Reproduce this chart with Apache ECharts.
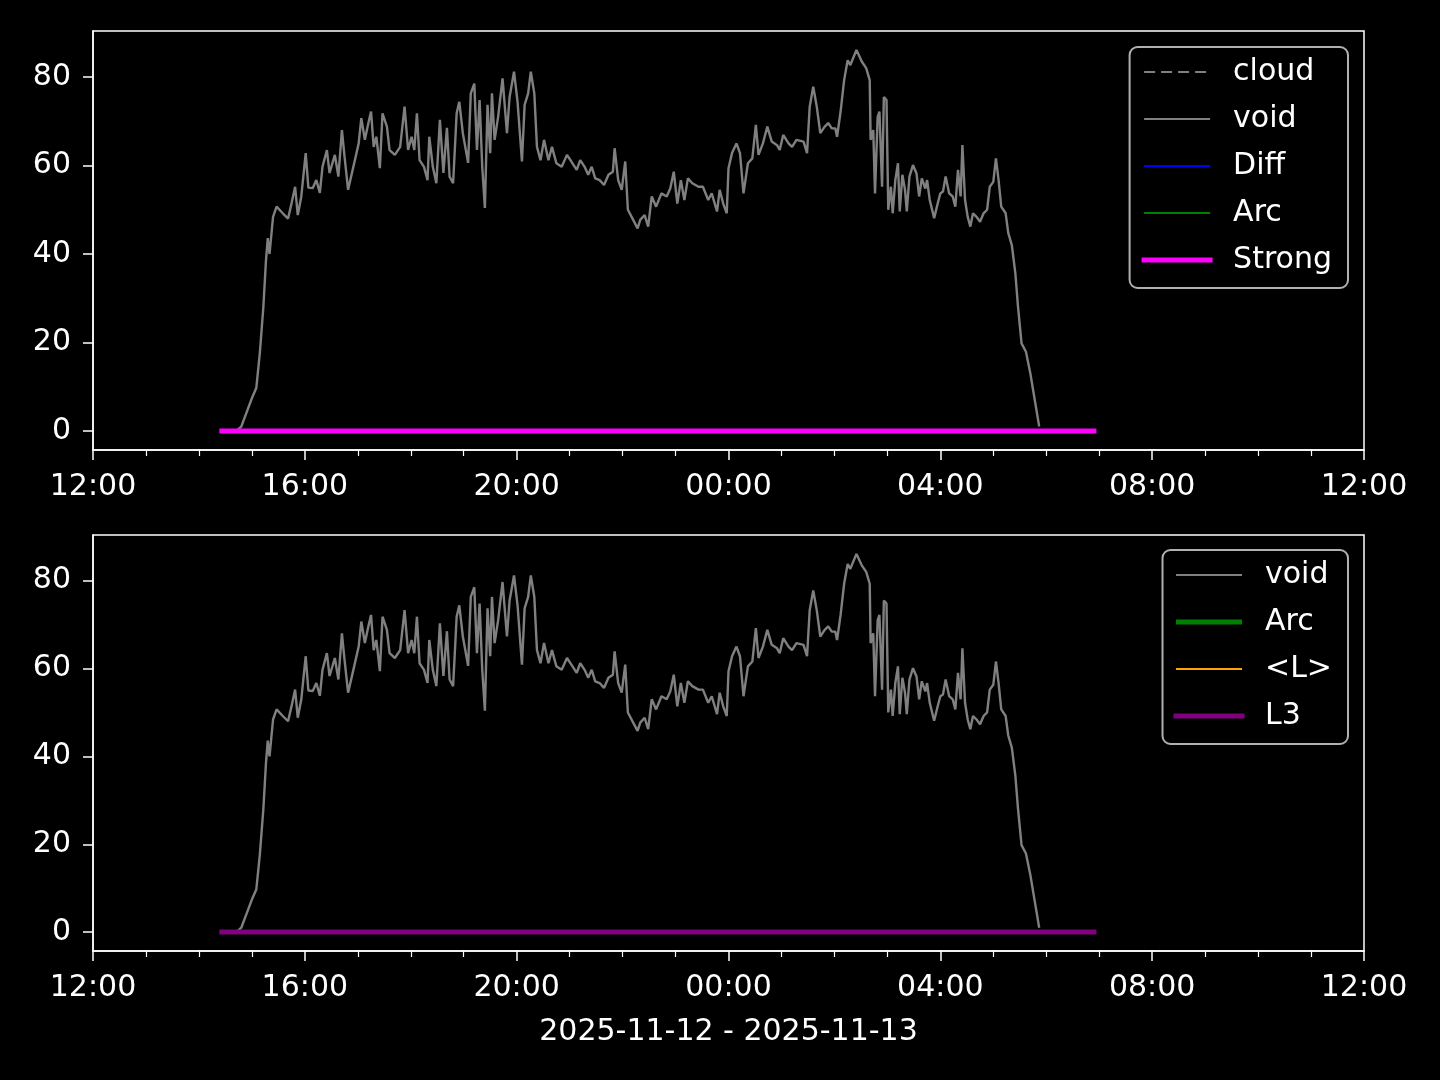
<!DOCTYPE html>
<html>
<head>
<meta charset="utf-8">
<script src="https://cdn.jsdelivr.net/npm/echarts@6/dist/echarts.min.js"></script>
<style>
html,body{margin:0;padding:0;background:#000;}
#chart{width:1440px;height:1080px;}
</style>
</head>
<body>
<div id="chart"></div>
<script>
// ---- data ----
const xTickLabels = ["12:00","16:00","20:00","00:00","04:00","08:00","12:00"];
const yTickValues = [0, 20, 40, 60, 80];
const dateLabel = "2025-11-12 - 2025-11-13";

const voidTimes = ["14:44","14:48","15:00","15:05","15:09","15:13","15:16","15:18","15:20","15:24","15:28","15:35","15:41","15:45","15:49","15:52","15:56","16:01","16:04","16:09","16:13","16:17","16:20","16:25","16:28","16:34","16:38","16:42","16:45","16:49","16:55","17:01","17:04","17:08","17:12","17:15","17:18","17:21","17:25","17:28","17:33","17:36","17:42","17:48","17:53","17:57","18:01","18:04","18:07","18:10","18:15","18:19","18:21","18:25","18:29","18:33","18:37","18:41","18:44","18:48","18:52","18:55","18:59","19:05","19:08","19:12","19:15","19:18","19:21","19:24","19:27","19:30","19:32","19:35","19:39","19:44","19:49","19:52","19:57","20:01","20:06","20:09","20:13","20:16","20:20","20:23","20:27","20:31","20:36","20:40","20:45","20:51","20:57","21:02","21:08","21:12","21:17","21:21","21:25","21:29","21:34","21:39","21:44","21:49","21:51","21:55","21:59","22:03","22:06","22:12","22:17","22:20","22:25","22:29","22:33","22:38","22:44","22:50","22:54","22:58","23:02","23:06","23:10","23:14","23:19","23:26","23:31","23:37","23:41","23:47","23:50","23:54","23:58","00:00","00:04","00:09","00:13","00:17","00:22","00:27","00:31","00:34","00:39","00:44","00:49","00:55","00:58","01:02","01:08","01:12","01:17","01:25","01:29","01:32","01:36","01:40","01:44","01:49","01:53","01:57","02:01","02:03","02:07","02:11","02:15","02:18","02:25","02:31","02:36","02:40","02:41","02:44","02:46","02:49","02:51","02:54","02:56","02:59","03:01","03:04","03:06","03:09","03:12","03:14","03:17","03:20","03:22","03:25","03:29","03:33","03:36","03:39","03:43","03:45","03:48","03:53","03:57","04:00","04:03","04:06","04:10","04:14","04:17","04:20","04:23","04:25","04:28","04:31","04:34","04:37","04:41","04:45","04:49","04:53","04:56","05:00","05:03","05:06","05:09","05:14","05:17","05:21","05:25","05:28","05:32","05:37","05:42","05:47","05:52"];
const voidValues = [0.3,1.0,7.4,9.7,17.6,28,38.6,43.6,40,48.4,50.7,49.2,48,51.5,55.2,48.8,53,62.8,55,54.9,56.7,53.8,59.7,63.5,58.3,62.4,57.5,68,62,54.5,59.7,65,70.7,65.8,69.6,72.2,64.2,66.5,59.4,71.8,68.8,63.5,62.4,64.2,73.3,63.5,66.5,63.5,71.8,61.2,59.7,56.7,66.5,59.7,56,70.3,58.3,68.5,57.5,56,71.8,74.4,67.3,60.6,76.3,78.5,63.5,74.8,59.7,50.4,73.7,62.8,76.3,65.8,71,79.7,67.3,75.5,81.2,74.4,60.9,73.7,76.3,81.2,76.3,64.2,61.2,65.8,61.2,64.2,60.5,59.7,62.4,60.9,59,61.2,59.7,57.9,59.7,57.1,56.7,55.6,57.9,58.6,63.9,56.7,54.5,60.9,50,47.7,45.8,47.7,48.8,46.2,53,50.7,53.7,53,54.8,58.6,51.4,56.7,52.2,57.1,56,55.2,55.2,52.2,53.7,49.6,54.5,51.4,49.2,59.4,62.8,65,62.8,53.7,60.5,61.6,69.2,62.4,65,68.8,65.4,64.6,63.5,66.9,65,64.2,65.8,65.4,62.8,73.3,77.8,73.3,67.3,68.8,69.6,68.4,68.4,66.5,72.2,79.3,83.8,82.7,86.1,83.5,82,79.3,65.8,68,53.7,71,72.2,55.2,75.5,74.8,50,55.2,49.2,56.7,60.5,49.6,57.9,54.5,49.6,57.5,60.1,58.2,53,57.1,54.8,56.7,52.2,48.1,51.4,53.7,54.1,57.5,53.7,53,50.7,59,53,64.6,52.2,48.4,46.2,49.2,48.4,47.3,49.2,50,55.2,56.3,61.6,56.7,50.7,49.2,44.7,42,35.6,28.1,19.8,17.9,13,7,1.0];

const strongTimes = ["14:26","06:54"];
const strongValues = [0, 0];
const l3Times = ["14:26","06:54"];
const l3Values = [0, 0];

// ---- helpers ----
function toHours(t){
  const [h,m] = t.split(":").map(Number);
  let mins = h*60 + m;
  if (h < 12) mins += 24*60;
  return (mins - 12*60)/60;
}
function pairs(times, vals){ return times.map((t,i)=>[toHours(t), vals[i]]); }

const FONT = "DejaVu Sans";
const WHITE = "#ffffff";

function xAxisCfg(idx){
  return {
    type:'value', gridIndex:idx, min:0, max:24, interval:4,
    axisLine:{show:true, onZero:false, lineStyle:{color:WHITE, width:1.5}},
    axisTick:{show:true, length:10, lineStyle:{color:WHITE, width:1.5}},
    minorTick:{show:true, splitNumber:4, length:6, lineStyle:{color:WHITE, width:1.2}},
    splitLine:{show:false}, minorSplitLine:{show:false},
    axisLabel:{color:WHITE, fontSize:30, fontFamily:FONT, margin:22,
      formatter:(v)=> xTickLabels[Math.round(v/4)]}
  };
}
function yAxisCfg(idx){
  return {
    type:'value', gridIndex:idx, min:-4.3, max:90.4,
    axisLine:{show:true, onZero:false, lineStyle:{color:WHITE, width:1.5}},
    axisTick:{show:true, length:10, customValues:yTickValues, lineStyle:{color:WHITE, width:1.5}},
    splitLine:{show:false},
    axisLabel:{color:WHITE, fontSize:30, fontFamily:FONT, margin:22, customValues:yTickValues}
  };
}

function legendItem(name, width, dash){
  return {name:name, lineStyle:{width:width, type: dash || 'solid'}, itemStyle:{opacity:0, borderWidth:0}};
}

const legendBase = {
  orient:'vertical', itemWidth:66, itemHeight:16, itemGap:11,
  borderColor:'#b0b0b0', borderWidth:2, borderRadius:8, backgroundColor:'#000',
  textStyle:{color:WHITE, fontSize:30, fontFamily:FONT, lineHeight:36, padding:[0,0,0,18]},
  itemStyle:{opacity:0, borderWidth:0},
  formatter:(n)=>n.trim(),
  selectedMode:false
};

const option = {
  backgroundColor:'#000',
  animation:false,
  grid:[
    {left:93, top:31, width:1271, height:419, show:true, borderColor:WHITE, borderWidth:1.5, backgroundColor:'#000'},
    {left:93, top:535, width:1271, height:416, show:true, borderColor:WHITE, borderWidth:1.5, backgroundColor:'#000'}
  ],
  xAxis:[xAxisCfg(0), xAxisCfg(1)],
  yAxis:[yAxisCfg(0), yAxisCfg(1)],
  legend:[
    Object.assign({}, legendBase, {right:92, top:47, padding:[7,16,10,12],
      data:[legendItem('cloud',2,[11,6]), legendItem('void',2.2), legendItem('Diff',2), legendItem('Arc',2), legendItem('Strong',5)]}),
    Object.assign({}, legendBase, {right:92, top:550, padding:[7,16,10,11],
      data:[legendItem('void ',2.2), legendItem('Arc ',5), legendItem('<L>',2), legendItem('L3',5)]})
  ],
  series:[
    {name:'cloud', type:'line', xAxisIndex:0, yAxisIndex:0, data:[], symbol:'none',
      lineStyle:{color:'#808080', width:2, type:[11,6]}, itemStyle:{color:'#808080'}},
    {name:'void', type:'line', xAxisIndex:0, yAxisIndex:0, data:pairs(voidTimes, voidValues), symbol:'none',
      lineStyle:{color:'#808080', width:2.4}, itemStyle:{color:'#808080'}},
    {name:'Diff', type:'line', xAxisIndex:0, yAxisIndex:0, data:[], symbol:'none',
      lineStyle:{color:'#0000ff', width:2}, itemStyle:{color:'#0000ff'}},
    {name:'Arc', type:'line', xAxisIndex:0, yAxisIndex:0, data:[], symbol:'none',
      lineStyle:{color:'#008000', width:2}, itemStyle:{color:'#008000'}},
    {name:'Strong', type:'line', xAxisIndex:0, yAxisIndex:0, data:pairs(strongTimes, strongValues), symbol:'none',
      lineStyle:{color:'#ff00ff', width:5, cap:'square'}, itemStyle:{color:'#ff00ff'}},

    {name:'void ', type:'line', xAxisIndex:1, yAxisIndex:1, data:pairs(voidTimes, voidValues), symbol:'none',
      lineStyle:{color:'#808080', width:2.4}, itemStyle:{color:'#808080'}},
    {name:'Arc ', type:'line', xAxisIndex:1, yAxisIndex:1, data:[], symbol:'none',
      lineStyle:{color:'#008000', width:5}, itemStyle:{color:'#008000'}},
    {name:'<L>', type:'line', xAxisIndex:1, yAxisIndex:1, data:[], symbol:'none',
      lineStyle:{color:'#ffa500', width:2}, itemStyle:{color:'#ffa500'}},
    {name:'L3', type:'line', xAxisIndex:1, yAxisIndex:1, data:pairs(l3Times, l3Values), symbol:'none',
      lineStyle:{color:'#800080', width:5, cap:'square'}, itemStyle:{color:'#800080'}}
  ],
  graphic:[
    {type:'text', x:728.5, y:1032, style:{text:dateLabel, fill:WHITE, font:'30px "DejaVu Sans"', align:'center', verticalAlign:'middle'}}
  ]
};

const chart = echarts.init(document.getElementById('chart'), null, {renderer:'canvas'});
chart.setOption(option);
</script>
</body>
</html>
